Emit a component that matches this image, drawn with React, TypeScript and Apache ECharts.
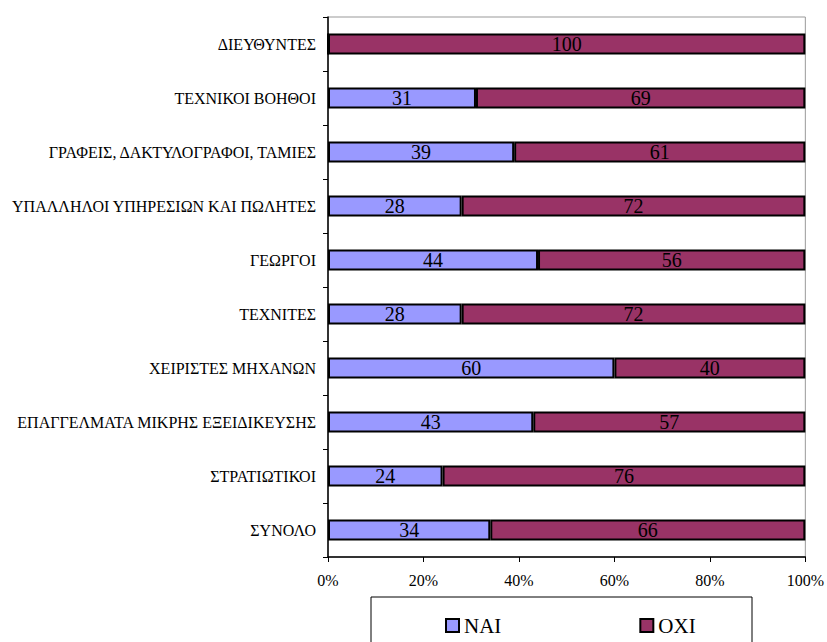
import React, { useEffect, useRef } from "react";
import * as echarts from "echarts";

const categories = [
  "ΔΙΕΥΘΥΝΤΕΣ",
  "ΤΕΧΝΙΚΟΙ ΒΟΗΘΟΙ",
  "ΓΡΑΦΕΙΣ, ΔΑΚΤΥΛΟΓΡΑΦΟΙ, ΤΑΜΙΕΣ",
  "ΥΠΑΛΛΗΛΟΙ ΥΠΗΡΕΣΙΩΝ ΚΑΙ ΠΩΛΗΤΕΣ",
  "ΓΕΩΡΓΟΙ",
  "ΤΕΧΝΙΤΕΣ",
  "ΧΕΙΡΙΣΤΕΣ ΜΗΧΑΝΩΝ",
  "ΕΠΑΓΓΕΛΜΑΤΑ ΜΙΚΡΗΣ ΕΞΕΙΔΙΚΕΥΣΗΣ",
  "ΣΤΡΑΤΙΩΤΙΚΟΙ",
  "ΣΥΝΟΛΟ",
];
const naiValues = [0, 31, 39, 28, 44, 28, 60, 43, 24, 34];
const oxiValues = [100, 69, 61, 72, 56, 72, 40, 57, 76, 66];
const seriesNames = ["NAI", "OXI"];
const FONT = "Liberation Serif";

export default function App() {
  const ref = useRef<HTMLDivElement>(null);
  useEffect(() => {
    if (!ref.current) return;
    const chart = echarts.init(ref.current, undefined, { renderer: "svg" });
    const label = {
      show: true,
      position: "inside",
      color: "#000",
      fontSize: 20,
      fontFamily: FONT,
      formatter: (p: any) => (p.value ? String(p.value) : ""),
    };
    chart.setOption({
      animation: false,
      backgroundColor: "#fff",
      textStyle: { fontFamily: FONT },
      grid: {
        left: 328,
        right: 20,
        top: 17,
        bottom: 85,
        show: true,
        borderColor: "#999",
        borderWidth: 1,
        backgroundColor: "transparent",
      },
      xAxis: {
        type: "value",
        min: 0,
        max: 100,
        interval: 20,
        axisLine: { show: true, lineStyle: { color: "#000", width: 1.5 } },
        axisTick: { show: true, length: 5, lineStyle: { color: "#000" } },
        splitLine: { show: false },
        axisLabel: {
          formatter: "{value}%",
          color: "#000",
          fontSize: 16,
          fontFamily: FONT,
          margin: 15,
        },
      },
      yAxis: {
        type: "category",
        data: categories,
        inverse: true,
        axisLine: { show: true, lineStyle: { color: "#000", width: 1.5 } },
        axisTick: { show: true, length: 5, lineStyle: { color: "#000" } },
        axisLabel: {
          color: "#000",
          fontSize: 16,
          fontFamily: FONT,
          margin: 12,
        },
      },
      legend: {
        data: seriesNames,
        left: 440,
        top: 610,
        itemWidth: 13,
        itemHeight: 13,
        itemGap: 138,
        icon: "rect",
        textStyle: { fontSize: 21, color: "#000", fontFamily: FONT },
      },
      graphic: [
        {
          type: "rect",
          shape: { x: 371, y: 597, width: 381, height: 60 },
          style: { fill: "none", stroke: "#000", lineWidth: 1 },
          silent: true,
        },
      ],
      series: [
        {
          name: seriesNames[0],
          type: "bar",
          stack: "total",
          data: naiValues,
          barWidth: 21,
          itemStyle: { color: "#9999FF", borderColor: "#000", borderWidth: 2 },
          label,
        },
        {
          name: seriesNames[1],
          type: "bar",
          stack: "total",
          data: oxiValues,
          barWidth: 21,
          itemStyle: { color: "#993366", borderColor: "#000", borderWidth: 2 },
          label,
        },
      ],
    });
    return () => chart.dispose();
  }, []);
  return (
    <div
      ref={ref}
      style={{ position: "fixed", left: 0, top: 0, width: 827, height: 642 }}
    />
  );
}
